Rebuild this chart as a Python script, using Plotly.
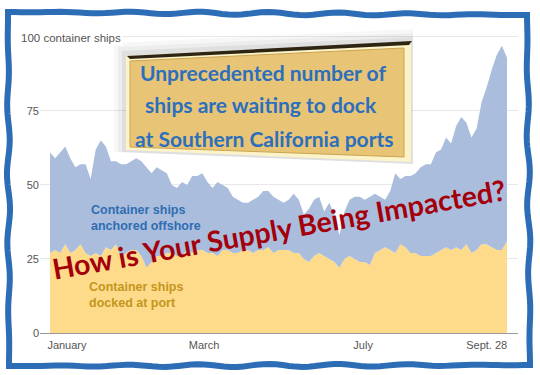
import math
import pandas as pd
import plotly.graph_objects as go

# ---------------- data (every 3 days) ----------------
dates = pd.date_range("2021-01-01", periods=91, freq="3D")

docked = [27, 28, 27, 30, 27, 28, 30, 27, 26, 27,
          26, 29, 28, 30, 25, 27, 28, 28, 26, 22,
          24, 26, 26, 27, 27, 26, 26, 28, 27, 28,
          28, 27, 27, 26, 28, 28, 27, 27, 28, 28,
          27, 28, 28, 29, 27, 28, 28, 28, 27, 27,
          25, 24, 26, 27, 26, 25, 24, 22, 25, 26,
          25, 24, 24, 23, 27, 28, 29, 28, 27, 30,
          29, 27, 27, 26, 26, 26, 27, 28, 29, 28,
          29, 28, 30, 27, 28, 30, 30, 29, 28, 28,
          31]

anchored = [34, 31, 34, 33, 32, 28, 27, 30, 26, 35,
            39, 34, 30, 28, 32, 30, 30, 31, 32, 34,
            30, 30, 29, 27, 23, 23, 25, 22, 26, 25,
            26, 24, 22, 25, 22, 21, 19, 18, 16, 16,
            18, 18, 20, 19, 19, 17, 16, 17, 20, 18,
            15, 18, 19, 19, 15, 19, 16, 11, 16, 19,
            21, 22, 21, 23, 20, 18, 16, 20, 27, 22,
            24, 26, 27, 30, 31, 31, 34, 34, 37, 36,
            41, 45, 41, 39, 41, 48, 53, 60, 66, 69,
            62]

y_ticks = [0, 25, 50, 75, 100]
y_tick_text = ["0", "25", "50", "75", ""]
x_ticks = ["2021-01-11", "2021-04-02", "2021-07-05", "2021-09-16"]
x_tick_text = ["January", "March", "July", "Sept. 28"]

# ---------------- layout geometry (pixels) ----------------
W, H = 540, 375
L, R, T, B = 40, 22, 34, 42
PW, PH = W - L - R, H - T - B


def px(x):
    return (x - L) / PW


def py(y):
    return (H - B - y) / PH


def poly(points):
    return "M " + " L ".join(f"{px(x):.5f},{py(y):.5f}" for x, y in points) + " Z"


fig = go.Figure()
fig.add_trace(go.Scatter(x=dates, y=docked, mode="lines", stackgroup="one",
                         line=dict(width=0), fillcolor="#fedb8a",
                         name="Container ships docked at port", hoverinfo="skip"))
fig.add_trace(go.Scatter(x=dates, y=anchored, mode="lines", stackgroup="one",
                         line=dict(width=0), fillcolor="#abbddc",
                         name="Container ships anchored offshore", hoverinfo="skip"))

shapes = []

# wavy blue frame (decoration)
frame_pts = []
corners = [(8, 12), (527, 15), (530, 365), (9, 366)]
for k in range(4):
    (x0, y0), (x1, y1) = corners[k], corners[(k + 1) % 4]
    n = 80
    length = abs(x1 - x0) + abs(y1 - y0)
    for i in range(n):
        t = i / n
        x = x0 + (x1 - x0) * t
        y = y0 + (y1 - y0) * t
        s = length * t
        w = 1.5 * math.sin(math.pi * s / 35.0) * math.sin(math.pi * t)
        if k % 2 == 0:
            y += w
        else:
            x += w
        frame_pts.append((x, y))
shapes.append(dict(type="path", xref="paper", yref="paper", path=poly(frame_pts),
                   line=dict(color="#2c6db6", width=6), fillcolor="rgba(0,0,0,0)",
                   layer="above"))

# gold box with shadow (decoration)
for d, a in [(13, 0.03), (9, 0.04), (5, 0.06)]:
    shapes.append(dict(type="path", xref="paper", yref="paper",
                       path=poly([(127 - d, 56 - d), (413, 42 - d),
                                  (413, 164), (127 - d, 152)]),
                       line=dict(width=0), fillcolor=f"rgba(0,0,0,{a})", layer="above"))
shapes.append(dict(type="path", xref="paper", yref="paper",
                   path=poly([(126, 56), (411, 42), (411, 162), (126, 150)]),
                   line=dict(width=0), fillcolor="#fcf3c8", layer="above"))
shapes.append(dict(type="path", xref="paper", yref="paper",
                   path=poly([(130, 61), (404, 48), (404, 157), (130, 147)]),
                   line=dict(color="#c9a451", width=1), fillcolor="#e8c477", layer="above"))
shapes.append(dict(type="path", xref="paper", yref="paper",
                   path=poly([(127, 56), (412, 41), (409, 45), (130, 59)]),
                   line=dict(width=0), fillcolor="#2e2412", layer="above"))

annotations = [
    dict(xref="paper", yref="paper", x=px(19), y=py(38), xanchor="left", yanchor="middle",
         text="100 container ships", showarrow=False, bgcolor="white", borderpad=1,
         font=dict(family="Liberation Sans", size=11.5, color="#555555")),
    dict(xref="paper", yref="paper", x=px(89), y=py(218), xanchor="left", yanchor="middle",
         text="<b>Container ships<br>anchored offshore</b>", showarrow=False, align="left",
         font=dict(family="Liberation Sans", size=12.5, color="#2f6db3")),
    dict(xref="paper", yref="paper", x=px(87), y=py(295), xanchor="left", yanchor="middle",
         text="<b>Container ships<br>docked at port</b>", showarrow=False, align="left",
         font=dict(family="Liberation Sans", size=12.5, color="#c4961c")),
]
box_lines = [("Unprecedented number of", 263, 72),
             ("ships are waiting to dock", 261, 105),
             ("at Southern California ports", 264, 138)]
for txt, cx, cy in box_lines:
    annotations.append(dict(xref="paper", yref="paper", x=px(cx), y=py(cy),
                            xanchor="center", yanchor="middle", text=f"<b>{txt}</b>",
                            showarrow=False,
                            font=dict(family="Lato", size=21, color="#2b6fbd")))
annotations.append(dict(xref="paper", yref="paper", x=px(279), y=py(229),
                        xanchor="center", yanchor="middle", textangle=-10,
                        text="<b>How is Your Supply Being Impacted?</b>", showarrow=False,
                        font=dict(family="Lato", size=28.5, color="#a3000c")))

fig.update_layout(
    width=W, height=H, margin=dict(l=L, r=R, t=T, b=B),
    paper_bgcolor="white", plot_bgcolor="white", showlegend=False,
    shapes=shapes, annotations=annotations,
    xaxis=dict(type="date", range=["2020-12-26 02:00", "2021-10-04 12:00"],
               tickvals=x_ticks, ticktext=x_tick_text, showgrid=False,
               showline=False, zeroline=False, ticks="", ticklabelstandoff=4,
               tickfont=dict(family="Liberation Sans", size=11, color="#555555")),
    yaxis=dict(range=[0, 101], tickvals=y_ticks, ticktext=y_tick_text,
               showgrid=True, gridcolor="#e8e8e8", gridwidth=1,
               zeroline=True, zerolinecolor="#9a9a9a", zerolinewidth=1,
               showline=False, ticks="",
               tickfont=dict(family="Liberation Sans", size=11, color="#555555")),
)

fig.write_html("out.html", config={"displayModeBar": False},
               post_script="document.body.style.margin='0';document.body.style.overflow='hidden';")
